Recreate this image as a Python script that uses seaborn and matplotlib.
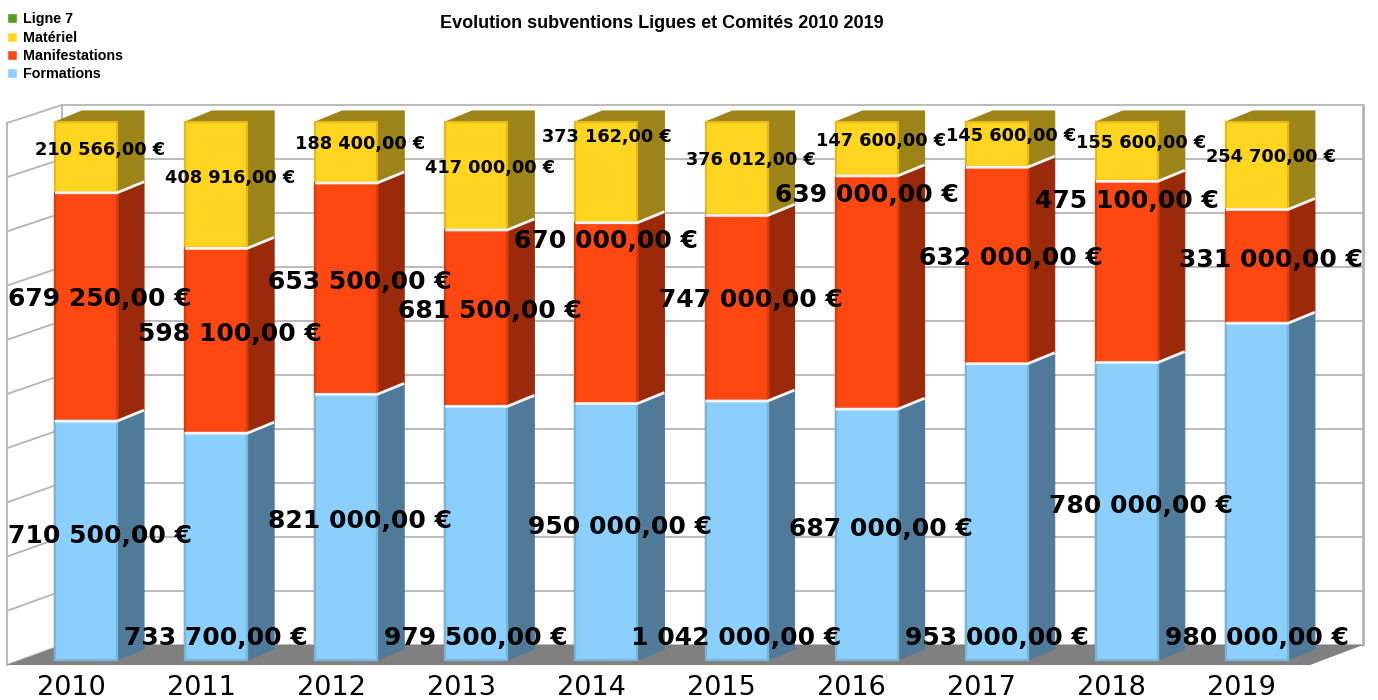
import numpy as np
import pandas as pd
import matplotlib
matplotlib.use("Agg")
import matplotlib.pyplot as plt
from matplotlib.patches import Polygon, Patch
import seaborn as sns

# ---- data -------------------------------------------------------------
years = ["2010", "2011", "2012", "2013", "2014",
         "2015", "2016", "2017", "2018", "2019"]
formations = [710500, 733700, 821000, 979500, 950000,
              1042000, 687000, 953000, 780000, 980000]
manifestations = [679250, 598100, 653500, 681500, 670000,
                  747000, 639000, 632000, 475100, 331000]
materiel = [210566, 408916, 188400, 417000, 373162,
            376012, 147600, 145600, 155600, 254700]
series_names = ["Ligne 7", "Matériel", "Manifestations", "Formations"]

# ---- label layout (vertical position in % of the stack, depth shift) --
lab_y_mat = [94.8, 89.6, 95.9, 91.4, 97.2, 92.9, 96.5, 97.4, 96.1, 93.5]
lab_y_man = [67.1, 60.6, 70.3, 64.9, 77.9, 66.9, 86.4, 74.7, 85.3, 74.3]
lab_y_for = [23.0, 4.1, 25.8, 4.1, 24.7, 4.1, 24.3, 4.1, 28.6, 4.1]
lab_d_mat = [1, 1, 1, 1, 0, 1, 1, 1, 1, 1]
lab_d_man = [1, 1, 1, 1, 0, 1, 0, 1, 0, 1]
lab_d_for = [1, 0, 1, 0, 1, 0, 1, 0, 1, 0]

# ---- colours ------------------------------------------------------------
C_GREEN = "#579d1c"
C_MAT, C_MAT_EDGE, C_MAT_SIDE = "#ffd520", "#e8b818", "#9c8418"
C_MAN, C_MAN_EDGE, C_MAN_SIDE = "#ff4712", "#e03a0c", "#9a2a0a"
C_FOR, C_FOR_EDGE, C_FOR_SIDE = "#8bd0fd", "#72b8e6", "#4f7a9a"
WALL = "#b4b4b4"
FLOOR = "#808080"

# ---- figure / pixel geometry -------------------------------------------
W, H = 1378, 700
X0, DX = 86.0, 130.1          # first bar centre, bar pitch (px)
Y0, DY = 660.0, 5.38          # baseline, px per percent
BAR_W = 62 / DX
DEPTH_X, DEPTH_Y = 27 / DX, 11 / DY


def px_x(px):
    return (px - X0) / DX


def px_y(py):
    return (Y0 - py) / DY


sns.set_style("white")
plt.rcParams["font.family"] = ["DejaVu Sans"]
plt.rcParams["text.color"] = "black"

fig = plt.figure(figsize=(W / 100, H / 100), dpi=100)
ax = fig.add_axes([0, 0, 1, 1])

df = pd.DataFrame({"year": years, "for": formations,
                   "man": manifestations, "mat": materiel})
tot = df["for"] + df["man"] + df["mat"]
df["p_for"] = df["for"] / tot * 100
df["p_man"] = (df["for"] + df["man"]) / tot * 100
df["p_mat"] = 100.0 * tot / tot

# ---- walls & floor ------------------------------------------------------
LF, LB, RB, RF = 7, 62, 1363, 1310
FB, BB, BT, FT = 665, 645, 105, 123
step_b = (BB - BT) / 10
step_f = (FB - FT) / 10
for k in range(11):
    yb, yf = BB - step_b * k, FB - step_f * k
    ax.plot([px_x(LB), px_x(RB)], [px_y(yb), px_y(yb)], color=WALL,
            lw=1.3, zorder=0)
    ax.plot([px_x(LF), px_x(LB)], [px_y(yf), px_y(yb)], color=WALL,
            lw=1.3, zorder=0)
ax.plot([px_x(LF)] * 2, [px_y(FB), px_y(FT)], color=WALL, lw=1.3, zorder=0)
ax.plot([px_x(LB)] * 2, [px_y(BB), px_y(BT)], color=WALL, lw=1.3, zorder=0)
ax.plot([px_x(RB)] * 2, [px_y(BB), px_y(BT)], color=WALL, lw=2, zorder=0)
ax.add_patch(Polygon([(px_x(LF), px_y(FB)), (px_x(RF), px_y(FB)),
                      (px_x(RB), px_y(BB)), (px_x(LB), px_y(BB))],
                     closed=True, facecolor=FLOOR, edgecolor="none",
                     zorder=0.5))

# ---- bars: front faces (stacked by overlaying cumulative heights) -------
for col, c, e in [("p_mat", C_MAT, C_MAT_EDGE), ("p_man", C_MAN, C_MAN_EDGE),
                  ("p_for", C_FOR, C_FOR_EDGE)]:
    sns.barplot(data=df, x="year", y=col, color=c, saturation=1,
                width=BAR_W, edgecolor=e, linewidth=1.6, ax=ax,
                zorder=2)

# ---- bars: side and top faces, segment gaps -------------------------------
for i in range(len(years)):
    xr = i + BAR_W / 2
    xl = i - BAR_W / 2
    segs = [(0, df["p_for"][i], C_FOR_SIDE),
            (df["p_for"][i], df["p_man"][i], C_MAN_SIDE),
            (df["p_man"][i], df["p_mat"][i], C_MAT_SIDE)]
    for y0, y1, c in segs:
        ax.add_patch(Polygon([(xr, y0), (xr + DEPTH_X, y0 + DEPTH_Y),
                              (xr + DEPTH_X, y1 + DEPTH_Y), (xr, y1)],
                             closed=True, facecolor=c, edgecolor=c,
                             lw=0.8, zorder=1.9))
    top = df["p_mat"][i]
    ax.add_patch(Polygon([(xl, top), (xr, top),
                          (xr + DEPTH_X, top + DEPTH_Y),
                          (xl + DEPTH_X, top + DEPTH_Y)],
                         closed=True, facecolor=C_MAT_SIDE,
                         edgecolor=C_MAT_SIDE, lw=0.8, zorder=1.9))
    for yb in (df["p_for"][i], df["p_man"][i]):
        ax.plot([xl, xr, xr + DEPTH_X], [yb, yb, yb + DEPTH_Y],
                color="#f4f4f4", lw=2.0, solid_capstyle="butt", zorder=3)


def euro(v):
    s = f"{v:,.2f}".replace(",", " ").replace(".", ",")
    return s + " €"


# ---- value labels ---------------------------------------------------------
shift = 14 / DX
for i in range(len(years)):
    for vals, ys, ds, size in [(materiel, lab_y_mat, lab_d_mat, 12.8),
                               (manifestations, lab_y_man, lab_d_man, 18),
                               (formations, lab_y_for, lab_d_for, 18)]:
        ax.text(i + ds[i] * shift, ys[i], euro(vals[i]), ha="center",
                va="center", fontsize=size, fontweight="bold",
                color="#000000", zorder=5)

# ---- category labels ------------------------------------------------------
for i, y in enumerate(years):
    ax.text(i - 15 / DX, px_y(688), y, ha="center", va="center",
            fontsize=19.5, color="#000000", zorder=5)

ax.set_xlim(px_x(0), px_x(W))
ax.set_ylim(px_y(H), px_y(0))
ax.axis("off")

# ---- title & legend ------------------------------------------------------
fig.text(662 / W, 1 - 24 / H, "Evolution subventions Ligues et Comités 2010 2019",
         ha="center", va="center", fontsize=13, fontweight="bold",
         color="#000000", family=["Liberation Sans", "DejaVu Sans"])

handles = [Patch(facecolor=C_GREEN), Patch(facecolor=C_MAT),
           Patch(facecolor=C_MAN), Patch(facecolor=C_FOR)]
leg = fig.legend(handles, series_names, loc="upper left",
                 bbox_to_anchor=(3 / W, 1 - 8 / H), frameon=False,
                 prop={"family": "Liberation Sans", "weight": "bold",
                       "size": 10.3},
                 handlelength=0.7, handleheight=0.7, handletextpad=0.4,
                 labelspacing=0.3, borderaxespad=0, borderpad=0.3)
for t in leg.get_texts():
    t.set_color("#000000")

fig.savefig("out.png", dpi=100)
